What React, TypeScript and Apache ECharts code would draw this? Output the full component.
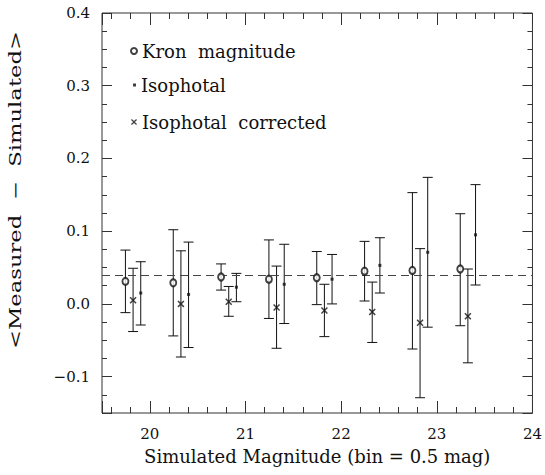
import React, { useEffect, useRef } from "react";
import * as echarts from "echarts";

// Kron magnitude (open circles)
const kronX = [19.745, 20.245, 20.745, 21.245, 21.745, 22.245, 22.745, 23.245];
const kronY = [0.031, 0.029, 0.037, 0.034, 0.036, 0.045, 0.046, 0.048];
const kronLo = [-0.012, -0.044, 0.019, -0.02, -0.001, 0.004, -0.062, -0.03];
const kronHi = [0.074, 0.102, 0.055, 0.088, 0.072, 0.086, 0.153, 0.124];

// Isophotal corrected (crosses)
const corrX = [19.825, 20.325, 20.825, 21.325, 21.825, 22.325, 22.825, 23.325];
const corrY = [0.005, 0.0, 0.003, -0.005, -0.009, -0.011, -0.026, -0.017];
const corrLo = [-0.038, -0.073, -0.017, -0.061, -0.045, -0.053, -0.129, -0.081];
const corrHi = [0.049, 0.073, 0.024, 0.052, 0.027, 0.03, 0.076, 0.048];

// Isophotal (dots)
const isoX = [19.905, 20.405, 20.905, 21.405, 21.905, 22.405, 22.905, 23.405];
const isoY = [0.015, 0.013, 0.023, 0.027, 0.034, 0.053, 0.071, 0.095];
const isoLo = [-0.029, -0.06, 0.003, -0.027, 0.0, 0.015, -0.032, 0.026];
const isoHi = [0.058, 0.085, 0.042, 0.082, 0.068, 0.091, 0.174, 0.164];

const referenceLevel = 0.04;
const xMajorTicks = [20, 21, 22, 23, 24];
const yMajorTicks = [-0.1, 0.0, 0.1, 0.2, 0.3, 0.4];

const X_MIN = 19.5;
const X_MAX = 24;
const Y_MIN = -0.15;
const Y_MAX = 0.4;

const FONT = "DejaVu Serif";
const INK = "#111";
const LINE = "#333";
const CROSS =
  "path://M0,1.5L1.5,0L5,3.5L8.5,0L10,1.5L6.5,5L10,8.5L8.5,10L5,6.5L1.5,10L0,8.5L3.5,5Z";

const errRender = (params: any, api: any) => {
  const x = api.value(0);
  const lo = api.value(1);
  const hi = api.value(2);
  const top = api.coord([x, hi]);
  const bot = api.coord([x, lo]);
  const hw = 5;
  const st = { stroke: INK, lineWidth: 1 };
  return {
    type: "group",
    children: [
      { type: "line", shape: { x1: top[0], y1: top[1], x2: bot[0], y2: bot[1] }, style: st },
      { type: "line", shape: { x1: top[0] - hw, y1: top[1], x2: top[0] + hw, y2: top[1] }, style: st },
      { type: "line", shape: { x1: bot[0] - hw, y1: bot[1], x2: bot[0] + hw, y2: bot[1] }, style: st },
    ],
  };
};

const zip2 = (a: number[], b: number[]) => a.map((v, i) => [v, b[i]]);
const zip3 = (a: number[], b: number[], c: number[]) => a.map((v, i) => [v, b[i], c[i]]);

const isMajor = (v: number, list: number[]) => list.some((t) => Math.abs(t - v) < 1e-6);

export default function App() {
  const ref = useRef<HTMLDivElement>(null);
  useEffect(() => {
    if (!ref.current) return;
    const chart = echarts.init(ref.current, null, { renderer: "svg" });

    const xBase = {
      type: "value",
      min: X_MIN,
      max: X_MAX,
      axisLine: { show: false, onZero: false },
      splitLine: { show: false },
    };
    const yBase = {
      type: "value",
      min: Y_MIN,
      max: Y_MAX,
      axisLine: { show: false, onZero: false },
      splitLine: { show: false },
    };

    const legendCommon = {
      orient: "vertical",
      textStyle: { fontFamily: FONT, fontSize: 18, color: INK },
      selectedMode: false,
      formatter: (name: string) => name.replace(/ /g, "  "),
    };

    chart.setOption({
      animation: false,
      backgroundColor: "#fff",
      grid: {
        left: 102,
        right: 11,
        top: 13,
        bottom: 62,
        show: true,
        borderColor: LINE,
        borderWidth: 1,
        backgroundColor: "transparent",
      },
      legend: [
        {
          ...legendCommon,
          left: 125,
          top: 37,
          itemWidth: 6,
          itemHeight: 6,
          data: [{ name: "Kron magnitude", icon: "emptyCircle" }],
        },
        {
          ...legendCommon,
          left: 128,
          top: 71,
          itemWidth: 3,
          itemHeight: 3,
          data: [{ name: "Isophotal", icon: "rect" }],
        },
        {
          ...legendCommon,
          left: 126,
          top: 108,
          itemWidth: 6,
          itemHeight: 6,
          data: [{ name: "Isophotal corrected", icon: CROSS }],
        },
      ],
      xAxis: [
        {
          ...xBase,
          position: "bottom",
          splitNumber: 4,
          axisTick: { show: true, inside: true, length: 12, lineStyle: { color: LINE } },
          axisLabel: {
            show: true,
            margin: 13,
            fontFamily: FONT,
            fontSize: 15,
            color: INK,
            formatter: (v: number) => (isMajor(v, xMajorTicks) ? String(Math.round(v)) : ""),
          },
          name: "Simulated Magnitude (bin = 0.5 mag)",
          nameLocation: "middle",
          nameGap: 34,
          nameTextStyle: { fontFamily: FONT, fontSize: 18, color: INK },
        },
        {
          ...xBase,
          position: "bottom",
          splitNumber: 22,
          axisTick: { show: true, inside: true, length: 6, lineStyle: { color: LINE } },
          axisLabel: { show: false },
        },
        {
          ...xBase,
          position: "top",
          splitNumber: 4,
          axisTick: { show: true, inside: true, length: 12, lineStyle: { color: LINE } },
          axisLabel: { show: false },
        },
        {
          ...xBase,
          position: "top",
          splitNumber: 22,
          axisTick: { show: true, inside: true, length: 6, lineStyle: { color: LINE } },
          axisLabel: { show: false },
        },
      ],
      yAxis: [
        {
          ...yBase,
          position: "left",
          splitNumber: 5,
          axisTick: { show: true, inside: true, length: 10, lineStyle: { color: LINE } },
          axisLabel: {
            show: true,
            margin: 12,
            fontFamily: FONT,
            fontSize: 15,
            color: INK,
            formatter: (v: number) =>
              isMajor(v, yMajorTicks) ? (Math.abs(v) < 1e-9 ? "0.0" : v.toFixed(1).replace("-", "\u2212")) : "",
          },
        },
        {
          ...yBase,
          position: "left",
          interval: 0.025,
          axisTick: { show: true, inside: true, length: 5, lineStyle: { color: LINE } },
          axisLabel: { show: false },
        },
        {
          ...yBase,
          position: "right",
          splitNumber: 5,
          axisTick: { show: true, inside: true, length: 10, lineStyle: { color: LINE } },
          axisLabel: { show: false },
        },
        {
          ...yBase,
          position: "right",
          interval: 0.025,
          axisTick: { show: true, inside: true, length: 5, lineStyle: { color: LINE } },
          axisLabel: { show: false },
        },
      ],
      graphic: [
        {
          type: "text",
          x: 16,
          y: 190,
          rotation: Math.PI / 2,
          scaleX: 1.42,
          style: {
            text: "<Measured  \u2212  Simulated>",
            fontFamily: FONT,
            fontSize: 16,
            fill: INK,
            textAlign: "center",
            textVerticalAlign: "middle",
          },
        },
      ],
      series: [
        {
          name: "kronErr",
          type: "custom",
          renderItem: errRender,
          data: zip3(kronX, kronLo, kronHi),
          encode: { x: 0, y: [1, 2] },
          z: 2,
        },
        {
          name: "corrErr",
          type: "custom",
          renderItem: errRender,
          data: zip3(corrX, corrLo, corrHi),
          encode: { x: 0, y: [1, 2] },
          z: 2,
        },
        {
          name: "isoErr",
          type: "custom",
          renderItem: errRender,
          data: zip3(isoX, isoLo, isoHi),
          encode: { x: 0, y: [1, 2] },
          z: 2,
        },
        {
          name: "Kron magnitude",
          type: "scatter",
          symbol: "emptyCircle",
          symbolSize: [6, 7],
          itemStyle: { color: INK, borderColor: INK, borderWidth: 0.8 },
          data: zip2(kronX, kronY),
          z: 5,
          markLine: {
            silent: true,
            symbol: ["none", "none"],
            label: { show: false },
            lineStyle: { color: "#444", type: [8, 5], width: 1.2 },
            data: [{ yAxis: referenceLevel }],
          },
        },
        {
          name: "Isophotal",
          type: "scatter",
          symbol: "rect",
          symbolSize: 3,
          itemStyle: { color: INK },
          data: zip2(isoX, isoY),
          z: 5,
        },
        {
          name: "Isophotal corrected",
          type: "scatter",
          symbol: CROSS,
          symbolSize: 7,
          itemStyle: { color: INK },
          data: zip2(corrX, corrY),
          z: 5,
        },
      ],
    });
    return () => chart.dispose();
  }, []);
  return (
    <div
      ref={ref}
      style={{ position: "fixed", left: 0, top: 0, width: 545, height: 475, background: "#fff" }}
    />
  );
}
